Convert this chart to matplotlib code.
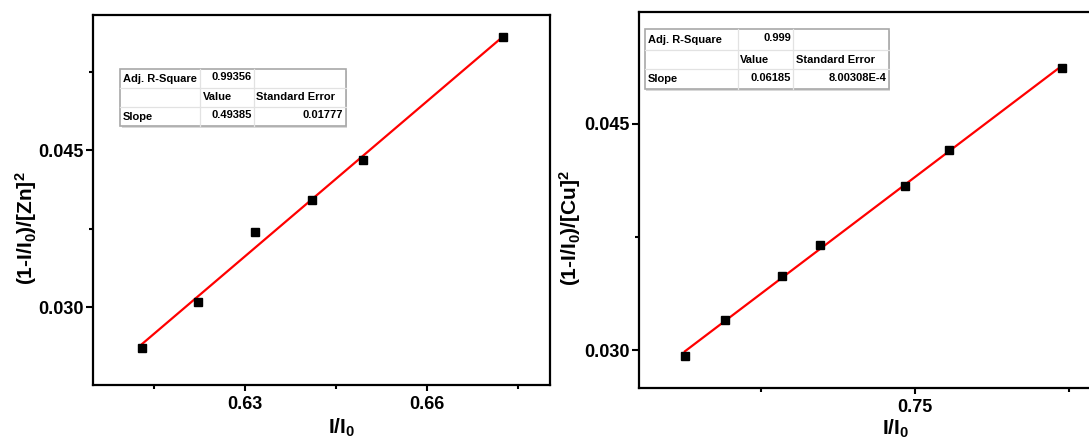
import numpy as np
import matplotlib
matplotlib.use("Agg")
import matplotlib.pyplot as plt
from matplotlib.ticker import MultipleLocator, AutoMinorLocator, FormatStrFormatter
from matplotlib.patches import Rectangle
from matplotlib.lines import Line2D

plt.rcParams.update({
    "font.family": ["Liberation Sans", "DejaVu Sans"],
    "font.weight": "bold",
    "mathtext.fontset": "custom",
    "mathtext.rm": "Liberation Sans:bold",
    "mathtext.it": "Liberation Sans:bold",
    "mathtext.bf": "Liberation Sans:bold",
    "mathtext.default": "bf",
})

# Stern-Volmer type data: Zn titration
zn_x = [0.6131, 0.6223, 0.6316, 0.6411, 0.6495, 0.6725]
zn_y = [0.0261, 0.0305, 0.0372, 0.0402, 0.0441, 0.0558]

# Cu titration
cu_x = [0.7126, 0.7191, 0.7284, 0.7346, 0.7484, 0.7555, 0.7738]
cu_y = [0.0296, 0.0320, 0.0349, 0.0370, 0.0409, 0.0433, 0.0487]

# Linear-fit summary tables
zn_stats = [["Adj. R-Square", "0.99356", ""],
            ["", "Value", "Standard Error"],
            ["Slope", "0.49385", "0.01777"]]
cu_stats = [["Adj. R-Square", "0.999", ""],
            ["", "Value", "Standard Error"],
            ["Slope", "0.06185", "8.00308E-4"]]

zn_ylabel = r"(1-I/I$_0$)/[Zn]$^2$"
cu_ylabel = r"(1-I/I$_0$)/[Cu]$^2$"
xlabel = r"I/I$_0$"

W, H = 1089, 441
fig = plt.figure(figsize=(W / 100, H / 100), dpi=100)


def px_box(left, top, right, bottom):
    return [left / W, 1 - bottom / H, (right - left) / W, (bottom - top) / H]


def is_number(s):
    try:
        float(s)
        return True
    except ValueError:
        return False


def stats_table(cells, xs, ys):
    """Draw a small Origin-style fit table; xs/ys are pixel boundaries."""
    fx = [x / W for x in xs]
    fy = [1 - y / H for y in ys]
    # soft shadow
    fig.add_artist(Rectangle((fx[0] + 1.5 / W, fy[-1] - 1.5 / H), fx[-1] - fx[0], fy[0] - fy[-1],
                             transform=fig.transFigure, facecolor="#d8d8d8",
                             edgecolor="none", zorder=9))
    fig.add_artist(Rectangle((fx[0], fy[-1]), fx[-1] - fx[0], fy[0] - fy[-1],
                             transform=fig.transFigure, facecolor="white",
                             edgecolor="#a8a8a8", lw=1.2, zorder=10))
    for x in fx[1:-1]:
        fig.add_artist(Line2D([x, x], [fy[-1], fy[0]], transform=fig.transFigure,
                              color="#e2e2e2", lw=0.9, zorder=11))
    for y in fy[1:-1]:
        fig.add_artist(Line2D([fx[0], fx[-1]], [y, y], transform=fig.transFigure,
                              color="#e2e2e2", lw=0.9, zorder=11))
    pad = 2.5 / W
    for r, row in enumerate(cells):
        yc = (fy[r] + fy[r + 1]) / 2
        for c, txt in enumerate(row):
            if not txt:
                continue
            if is_number(txt):
                fig.text(fx[c + 1] - pad, yc + 1.2 / H, txt, ha="right", va="center",
                         fontsize=8, fontweight="bold", zorder=12)
            else:
                fig.text(fx[c] + pad, yc, txt, ha="left", va="center",
                         fontsize=8, fontweight="bold", zorder=12)


def style_axes(ax, xmajor, ymajor, xfmt, yfmt):
    for sp in ax.spines.values():
        sp.set_linewidth(1.6)
        sp.set_color("black")
    ax.xaxis.set_major_locator(MultipleLocator(xmajor))
    ax.xaxis.set_minor_locator(AutoMinorLocator(2))
    ax.yaxis.set_major_locator(MultipleLocator(ymajor))
    ax.yaxis.set_minor_locator(AutoMinorLocator(2))
    ax.xaxis.set_major_formatter(FormatStrFormatter(xfmt))
    ax.yaxis.set_major_formatter(FormatStrFormatter(yfmt))
    ax.tick_params(axis="x", which="major", direction="out", length=4.5, width=1.5,
                   labelsize=13, pad=3.5)
    ax.tick_params(axis="x", which="minor", direction="out", length=3, width=1.5)
    ax.tick_params(axis="y", which="major", direction="out", length=5, width=1.5,
                   labelsize=13, pad=2)
    ax.tick_params(axis="y", which="minor", direction="out", length=3, width=1.5)
    for lbl in ax.get_xticklabels() + ax.get_yticklabels():
        lbl.set_fontweight("bold")


def fit_panel(ax, x, y):
    x = np.asarray(x)
    y = np.asarray(y)
    slope, intercept = np.polyfit(x, y, 1)
    xx = np.array([x.min(), x.max()])
    ax.plot(xx, slope * xx + intercept, color="#ff0000", lw=1.6, zorder=2)
    ax.plot(x, y, "s", color="black", ms=6, zorder=3)


# Zn panel
ax1 = fig.add_axes(px_box(93, 14.7, 550, 385))
fit_panel(ax1, zn_x, zn_y)
ax1.set_xlim(0.605, 0.6802)
ax1.set_ylim(0.02255, 0.05796)
style_axes(ax1, 0.03, 0.015, "%.2f", "%.3f")
ax1.set_ylabel(zn_ylabel, fontsize=15, fontweight="bold")
ax1.yaxis.set_label_coords(-0.118, 0.424)
ax1.set_xlabel(xlabel, fontsize=15, fontweight="bold")
ax1.xaxis.set_label_coords(0.544, -0.0864)
stats_table(zn_stats, [120, 200, 254, 345.7], [69.3, 87.7, 107.3, 126])

# Cu panel (extends past the right edge of the canvas)
ax2 = fig.add_axes(px_box(639.3, 12.3, 1095, 387.7))
fit_panel(ax2, cu_x, cu_y)
ax2.set_xlim(0.7052, 0.7792)
ax2.set_ylim(0.0275, 0.05241)
style_axes(ax2, 0.05, 0.015, "%.2f", "%.3f")
ax2.set_ylabel(cu_ylabel, fontsize=15, fontweight="bold")
ax2.yaxis.set_label_coords(-0.1235, 0.425)
ax2.set_xlabel(xlabel, fontsize=15, fontweight="bold")
ax2.xaxis.set_label_coords(0.5624, -0.080)
stats_table(cu_stats, [645, 737.7, 793.3, 888.7], [29.3, 50, 69.3, 89])

fig.savefig("out.png", dpi=100)
